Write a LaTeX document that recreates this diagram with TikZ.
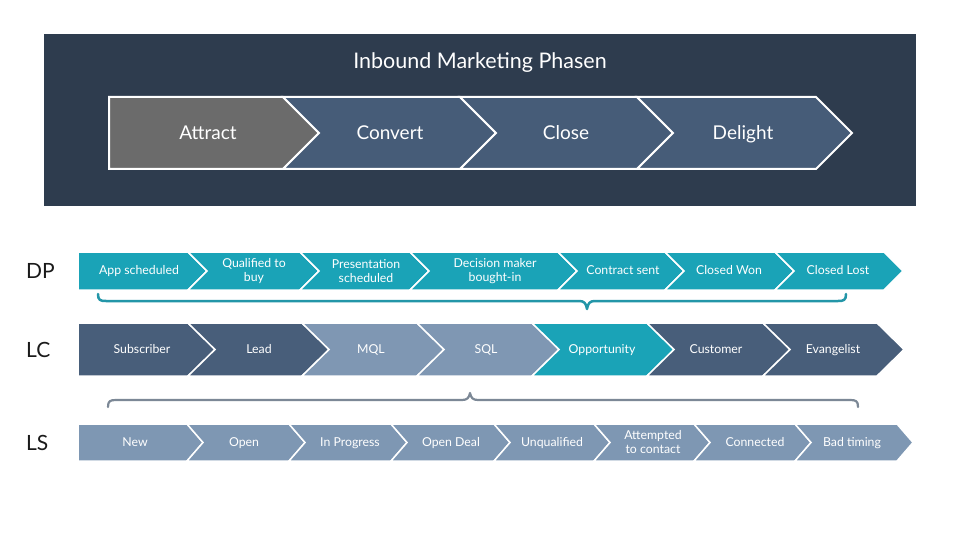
\documentclass[tikz,border=0pt]{standalone}
\usepackage{fontspec}
\setmainfont{Lato}
\definecolor{panelbg}{HTML}{2E3C4E}
\definecolor{topblue}{HTML}{465C78}
\definecolor{attractgray}{HTML}{6B6B6B}
\definecolor{tealc}{HTML}{1AA3B7}
\definecolor{lcdark}{HTML}{485E7A}
\definecolor{slatec}{HTML}{7F97B3}
\definecolor{lsc}{HTML}{7E97B3}
\definecolor{tealbrace}{HTML}{2396A8}
\definecolor{graybrace}{HTML}{7C8896}
\definecolor{labelc}{HTML}{1A1A1A}
\newcommand\rowgeom[3]{\def\rtop{#1}\def\rbot{#2}\def\rd{#3}}
\newcommand\chevseg[8][single]{%
  \filldraw[#6] (#3,\rtop) -- (#4,\rtop) -- ({#4+\rd},{(\rtop+\rbot)/2}) -- (#4,\rbot) -- (#3,\rbot) -- ({#3+#5*\rd},{(\rtop+\rbot)/2}) -- cycle;
  \node[lbl,#1] (#2) at (#7,{(\rtop+\rbot)/2}) {#8};}
\begin{document}
\begin{tikzpicture}[x=1pt,y=-1pt,
  lbl/.style={text=white,align=center,inner sep=0pt,font=\fontsize{12.3}{14}\selectfont},
  single/.style={text height=7.8pt,text depth=0pt},
  multi/.style={},
  topseg/.style={fill=topblue,draw=white,line width=2pt,line join=miter},
  attractseg/.style={fill=attractgray,draw=white,line width=2pt,line join=miter},
  dpseg/.style={fill=tealc,draw=white,line width=1.5pt},
  lcdarkseg/.style={fill=lcdark,draw=white,line width=1.5pt},
  lcslateseg/.style={fill=slatec,draw=white,line width=1.5pt},
  lctealseg/.style={fill=tealc,draw=white,line width=1.5pt},
  lsseg/.style={fill=lsc,draw=white,line width=1.5pt},
  rowlabel/.style={text=labelc,anchor=west,inner sep=0pt,font=\fontsize{21}{24}\selectfont,text height=15.1pt,text depth=0pt},
  dpbrace/.style={draw=tealbrace,line width=2.5pt,line cap=round,line join=round},
  lcbrace/.style={draw=graybrace,line width=2.2pt,line cap=round,line join=round}]
\useasboundingbox[fill=white] (0,0) rectangle (960,540);
% top panel
\fill[panelbg] (44,34) rectangle (916,206);
\node[text=white,inner sep=0pt,font=\fontsize{21.5}{24}\selectfont,text height=15.5pt,text depth=0pt] (title) at (480,61) {Inbound Marketing Phasen};
\begin{scope}[lbl/.style={text=white,align=center,inner sep=0pt,font=\fontsize{19}{22}\selectfont},
  single/.style={text height=13.2pt,text depth=0pt}]
\rowgeom{97}{169}{36}
\chevseg{attract}{109}{283}{0}{attractseg}{208}{Attract}
\chevseg{convert}{283}{460}{1}{topseg}{390}{Convert}
\chevseg{close}{460}{637}{1}{topseg}{566}{Close}
\chevseg{delight}{637}{816}{1}{topseg}{743}{Delight}
\end{scope}
% DP row
\node[rowlabel] (dp) at (26,271) {DP};
\rowgeom{252}{290}{19}
\chevseg{dp1}{78}{188}{0}{dpseg}{139}{App scheduled}
\chevseg[multi]{dp2}{188}{300}{1}{dpseg}{254}{Qualified to\\buy}
\chevseg[multi]{dp3}{300}{410}{1}{dpseg}{366}{Presentation\\scheduled}
\chevseg[multi]{dp4}{410}{558}{1}{dpseg}{495}{Decision maker\\bought-in}
\chevseg{dp5}{558}{665}{1}{dpseg}{623}{Contract sent}
\chevseg{dp6}{665}{775}{1}{dpseg}{729}{Closed Won}
\chevseg{dp7}{775}{884}{1}{dpseg}{838}{Closed Lost}
\coordinate (dpbl) at (98,294);
\coordinate (dpbr) at (846,294);
\draw[dpbrace] (dpbl) .. controls (98,300) and (100,301) .. (106,301) -- (579,301)
  .. controls (584,301) and (586,303) .. (587,309) .. controls (588,303) and (590,301) .. (595,301)
  -- (838,301) .. controls (844,301) and (846,300) .. (dpbr);
% LC row
\node[rowlabel] (lc) at (26,350) {LC};
\rowgeom{323}{376}{27}
\chevseg{lc1}{78}{188}{0}{lcdarkseg}{142}{Subscriber}
\chevseg{lc2}{188}{302}{1}{lcdarkseg}{259}{Lead}
\chevseg{lc3}{302}{417}{1}{lcslateseg}{371}{MQL}
\chevseg{lc4}{417}{532}{1}{lcslateseg}{486}{SQL}
\chevseg{lc5}{532}{647}{1}{lctealseg}{602}{Opportunity}
\chevseg{lc6}{647}{763}{1}{lcdarkseg}{716}{Customer}
\chevseg{lc7}{763}{877}{1}{lcdarkseg}{833}{Evangelist}
\coordinate (lcbl) at (108,407);
\coordinate (lcbr) at (858,407);
\draw[lcbrace] (lcbl) .. controls (108,401) and (110,400) .. (116,400) -- (462,400)
  .. controls (467,400) and (469,398) .. (470,393) .. controls (471,398) and (473,400) .. (478,400)
  -- (850,400) .. controls (856,400) and (858,401) .. (lcbr);
% LS row
\node[rowlabel] (ls) at (26,443) {LS};
\rowgeom{424}{461}{16}
\chevseg{ls1}{78}{187}{0}{lsseg}{135}{New}
\chevseg{ls2}{187}{289}{1}{lsseg}{244}{Open}
\chevseg{ls3}{289}{391}{1}{lsseg}{350}{In Progress}
\chevseg{ls4}{391}{494}{1}{lsseg}{451}{Open Deal}
\chevseg{ls5}{494}{594}{1}{lsseg}{552}{Unqualified}
\chevseg[multi]{ls6}{594}{694}{1}{lsseg}{653}{Attempted\\to contact}
\chevseg{ls7}{694}{795}{1}{lsseg}{755}{Connected}
\chevseg{ls8}{795}{897}{1}{lsseg}{852}{Bad timing}
\end{tikzpicture}
\end{document}
